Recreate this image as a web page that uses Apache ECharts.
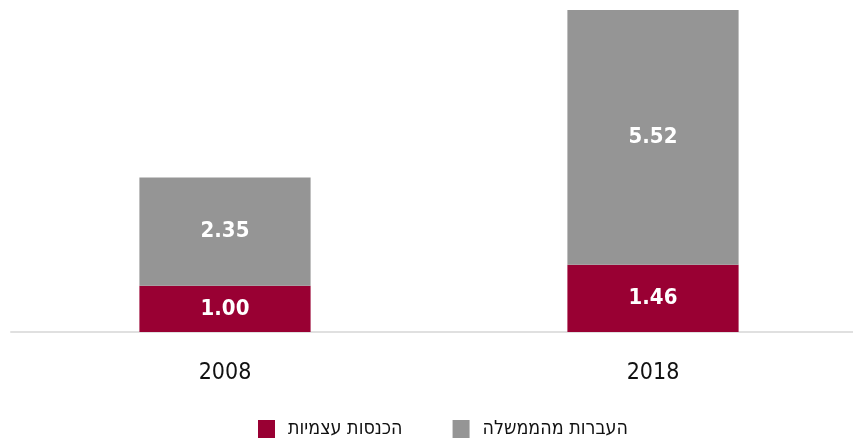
<!DOCTYPE html>
<html>
<head>
<meta charset="utf-8">
<script src="https://cdn.jsdelivr.net/npm/echarts@6/dist/echarts.min.js"></script>
<style>
  html, body { margin: 0; padding: 0; background: #fff; }
  #chart { width: 853px; height: 446px; }
</style>
</head>
<body>
<div id="chart"></div>
<script>
// נתונים
const years = ['2008', '2018'];
const ownIncome = [1.00, 1.46];
const govTransfers = [2.35, 5.52];
const seriesNames = ['הכנסות עצמיות', 'העברות מהממשלה'];

const font = '"DejaVu Sans Condensed", "Liberation Sans Narrow", sans-serif';

const valueLabel = {
  show: true,
  position: 'inside',
  color: '#fff',
  fontFamily: font,
  fontWeight: 'bold',
  fontSize: 22,
  formatter: (p) => p.value.toFixed(2)
};

const option = {
  animation: false,
  backgroundColor: '#fff',
  // הגריד חורג מעט מימין לקנבס, כמו במקור
  grid: { left: 11, width: 856, top: 9, bottom: 114, outerBoundsMode: 'none' },
  legend: {
    bottom: 2,
    left: 253,
    data: seriesNames,
    icon: 'rect',
    itemWidth: 17,
    itemHeight: 18,
    itemGap: 50,
    textStyle: {
      fontFamily: font,
      fontSize: 19.5,
      color: '#111',
      padding: [0, 0, 0, 8]
    }
  },
  xAxis: {
    type: 'category',
    data: years,
    axisLine: { lineStyle: { color: '#e0e0e0', width: 2 } },
    axisTick: { show: false },
    axisLabel: {
      color: '#111',
      fontFamily: font,
      fontSize: 23,
      margin: 30
    }
  },
  yAxis: {
    type: 'value',
    min: 0,
    max: 7,
    show: false,
    splitLine: { show: false }
  },
  series: [
    {
      name: seriesNames[0],
      type: 'bar',
      stack: 'total',
      data: ownIncome,
      barWidth: '40%',
      itemStyle: { color: '#990033' },
      label: valueLabel
    },
    {
      name: seriesNames[1],
      type: 'bar',
      stack: 'total',
      data: govTransfers,
      barWidth: '40%',
      itemStyle: { color: '#959595' },
      label: valueLabel
    }
  ]
};

const chart = echarts.init(document.getElementById('chart'));
chart.setOption(option);
</script>
</body>
</html>
